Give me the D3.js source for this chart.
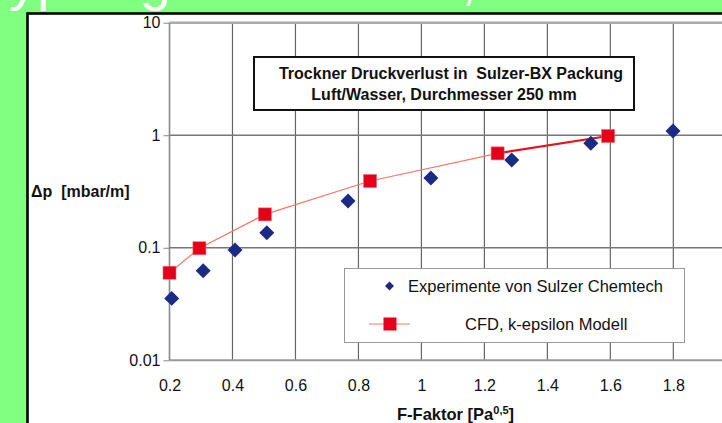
<!DOCTYPE html>
<html>
<head>
<meta charset="utf-8">
<script src="https://d3js.org/d3.v7.min.js"></script>
<style>
  body { margin: 0; background: #80ff80; }
  svg text { font-family: "Liberation Sans", Arial, sans-serif; fill: #111; }
</style>
</head>
<body>
<script>
// Daten
var expF  = [0.207, 0.307, 0.408, 0.509, 0.767, 1.03, 1.287, 1.538, 1.799];
var expDp = [0.0355, 0.0625, 0.0955, 0.136, 0.26, 0.417, 0.603, 0.847, 1.09];
var cfdF  = [0.2, 0.295, 0.503, 0.837, 1.242, 1.593];
var cfdDp = [0.06, 0.099, 0.198, 0.392, 0.69, 0.984];
var xTicks = [0.2, 0.4, 0.6, 0.8, 1.0, 1.2, 1.4, 1.6, 1.8];
var yTicks = [0.01, 0.1, 1, 10];

var W = 722, H = 423;
var svg = d3.select("body").append("svg").attr("width", W).attr("height", H);

// abgeschnittener Folientitel (nur Unterlaengen sichtbar)
svg.append("text").attr("x", -22).attr("y", -1)
  .style("font-size", "56px").style("fill", "#fff").text("Typ Ergebnisse");
svg.append("text").attr("x", 461).attr("y", -1)
  .style("font-size", "56px").style("fill", "#fff").text(",");

// weisse Flaeche mit schwarzem Rand
svg.append("rect").attr("x", 27.5).attr("y", 13.5).attr("width", W + 20).attr("height", H + 20)
  .attr("fill", "#fff").attr("stroke", "#000").attr("stroke-width", 2.6);

var x = d3.scaleLinear().domain([0.2, 2.0]).range([169.5, 736.3]);
var y = d3.scaleLog().domain([0.01, 10]).range([360.3, 22.7]);

// Gitter
svg.selectAll(".vgrid").data(xTicks.slice(1)).enter().append("line")
  .attr("x1", x).attr("x2", x).attr("y1", y(10)).attr("y2", y(0.01))
  .attr("stroke", "#666").attr("stroke-width", 1.2);
svg.selectAll(".hgrid").data([0.1, 1]).enter().append("line")
  .attr("x1", x(0.2)).attr("x2", W).attr("y1", y).attr("y2", y)
  .attr("stroke", "#777").attr("stroke-width", 1.3);
svg.append("line").attr("x1", x(0.2)).attr("x2", W).attr("y1", y(10)).attr("y2", y(10))
  .attr("stroke", "#aaa").attr("stroke-width", 2.5);
svg.append("line").attr("x1", x(0.2)).attr("x2", W).attr("y1", y(0.01)).attr("y2", y(0.01))
  .attr("stroke", "#999").attr("stroke-width", 2);
svg.append("line").attr("x1", x(0.2)).attr("x2", x(0.2)).attr("y1", y(10)).attr("y2", y(0.01))
  .attr("stroke", "#888").attr("stroke-width", 1.6);

// Achsen
var yAxis = svg.append("g").attr("transform", "translate(" + x(0.2) + ",0)")
  .call(d3.axisLeft(y).tickValues(yTicks).tickFormat(function(d) { return String(d); })
    .tickSize(6).tickPadding(3));
var xAxis = svg.append("g").attr("transform", "translate(0," + y(0.01) + ")")
  .call(d3.axisBottom(x).tickValues(xTicks).tickFormat(function(d) { return d3.format("~g")(d); })
    .tickSize(0).tickPadding(19));
[xAxis, yAxis].forEach(function(a) {
  a.select(".domain").remove();
  a.selectAll("line").attr("stroke", "#888");
  a.selectAll("text").style("font-size", "16px").attr("fill", "#111")
    .style("font-family", "'Liberation Sans', Arial, sans-serif");
});

// Titelbox
svg.append("rect").attr("x", 254).attr("y", 57).attr("width", 380).attr("height", 53)
  .attr("fill", "#fff").attr("stroke", "#111").attr("stroke-width", 2);
svg.append("text").attr("x", 451).attr("y", 79).attr("text-anchor", "middle")
  .style("font-size", "16px").style("font-weight", "bold")
  .text("Trockner Druckverlust in\u00a0 Sulzer-BX Packung");
svg.append("text").attr("x", 444).attr("y", 100).attr("text-anchor", "middle")
  .style("font-size", "16px").style("font-weight", "bold")
  .text("Luft/Wasser, Durchmesser 250 mm");

// Achsentitel
svg.append("text").attr("x", 31).attr("y", 197)
  .style("font-size", "16px").style("font-weight", "bold")
  .text("\u0394p\u00a0 [mbar/m]");
var xt = svg.append("text").attr("x", 397).attr("y", 420)
  .style("font-size", "16.5px").style("font-weight", "bold");
xt.append("tspan").text("F-Faktor [Pa");
xt.append("tspan").attr("dy", -6).style("font-size", "11px").text("0,5");
xt.append("tspan").attr("dy", 6).text("]");

// CFD-Linie
var cfd = cfdF.map(function(f, i) { return [f, cfdDp[i]]; });
var line = d3.line().x(function(d) { return x(d[0]); }).y(function(d) { return y(d[1]); });
svg.append("path").attr("d", line(cfd.slice(0, cfd.length - 1)))
  .attr("fill", "none").attr("stroke", "#f47868").attr("stroke-width", 1.2);
svg.append("path").attr("d", line(cfd.slice(cfd.length - 2)))
  .attr("fill", "none").attr("stroke", "#e8101e").attr("stroke-width", 2.2);

// Messpunkte (Rauten)
var diamond = d3.symbol().type(d3.symbolSquare).size(112);
svg.selectAll(".exp").data(expF).enter().append("path")
  .attr("d", diamond)
  .attr("transform", function(d, i) { return "translate(" + x(d) + "," + y(expDp[i]) + ") rotate(45)"; })
  .attr("fill", "#1b2a84");

// CFD-Punkte (Quadrate)
svg.selectAll(".cfd").data(cfd).enter().append("rect")
  .attr("x", function(d) { return x(d[0]) - 6.5; })
  .attr("y", function(d) { return y(d[1]) - 6.5; })
  .attr("width", 13).attr("height", 13)
  .attr("fill", "#e4001b").attr("stroke", "#f06a6a").attr("stroke-width", 0.6);

// Legende
svg.append("rect").attr("x", 344.5).attr("y", 268.5).attr("width", 340).attr("height", 74)
  .attr("fill", "#fff").attr("stroke", "#999").attr("stroke-width", 1);
svg.append("path").attr("d", d3.symbol().type(d3.symbolSquare).size(40))
  .attr("transform", "translate(389.5,286) rotate(45)").attr("fill", "#1b2a84");
svg.append("text").attr("x", 408).attr("y", 291.5).style("font-size", "16.5px")
  .text("Experimente von Sulzer Chemtech");
svg.append("line").attr("x1", 369).attr("x2", 410).attr("y1", 324).attr("y2", 324)
  .attr("stroke", "#f47868").attr("stroke-width", 1.2);
svg.append("rect").attr("x", 383.5).attr("y", 317.5).attr("width", 13).attr("height", 13)
  .attr("fill", "#e4001b");
svg.append("text").attr("x", 465).attr("y", 329.5).style("font-size", "16.5px")
  .text("CFD, k-epsilon Modell");
</script>
</body>
</html>
